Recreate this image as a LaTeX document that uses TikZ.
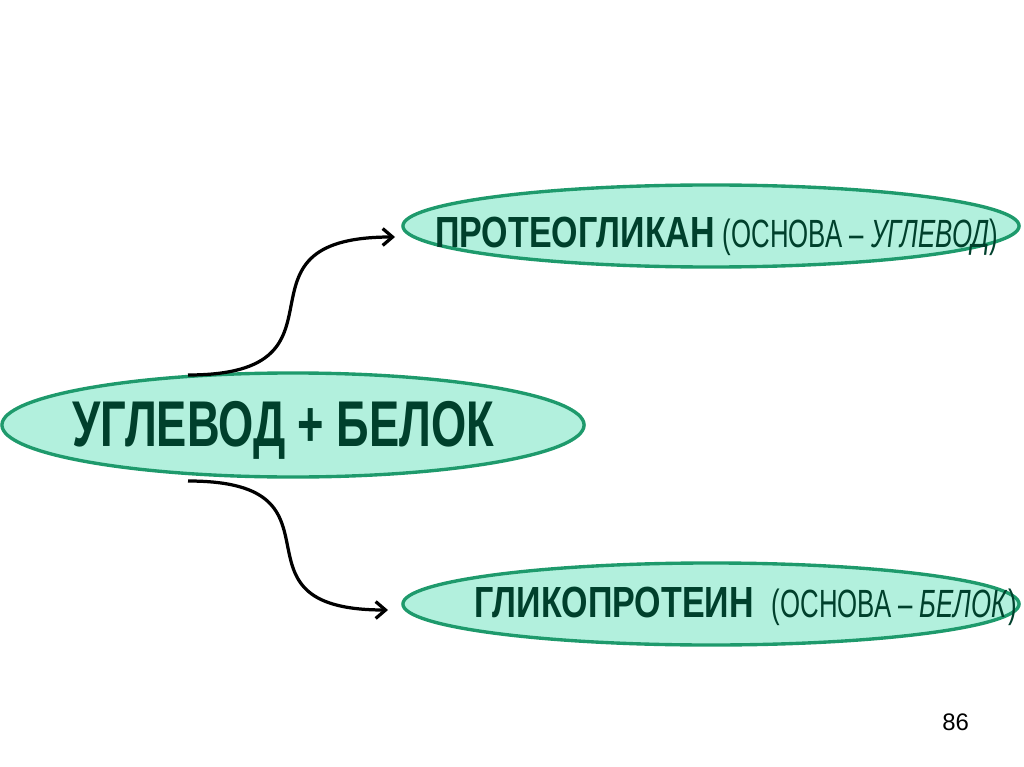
\documentclass[tikz,border=0pt]{standalone}
\usepackage{fontspec}
\setmainfont{Liberation Sans}
\usetikzlibrary{shapes.geometric,arrows.meta}
\definecolor{blobfill}{HTML}{B2F0DD}
\definecolor{blobline}{HTML}{1E9A6C}
\definecolor{txtgreen}{HTML}{00402C}
\tikzset{
  blob/.style={ellipse,draw=blobline,fill=blobfill,line width=2.4pt,inner sep=0pt},
  bigtxt/.style={text=txtgreen,font=\fontsize{46}{50}\selectfont\bfseries,anchor=base west,inner sep=0pt},
  midtxt/.style={text=txtgreen,anchor=base west,inner sep=0pt},
  link/.style={line width=2.3pt,-{Straight Barb[length=7pt,width=12pt]}}
}
\newcommand{\bpart}[1]{\scalebox{0.78}[1]{\fontsize{31}{36}\selectfont\bfseries #1}}
\newcommand{\rpart}[1]{\scalebox{0.655}[1]{\fontsize{28}{32}\selectfont #1}}

\begin{document}
\begin{tikzpicture}[x=0.025cm,y=-0.025cm]
\useasboundingbox (0,0) rectangle (1024,767);
\node[blob,minimum width=14.55cm,minimum height=2.6cm] (carb) at (293,425) {};
\node[blob,minimum width=15.4cm,minimum height=2.05cm] (prot) at (711,226) {};
\node[blob,minimum width=15.4cm,minimum height=2.05cm] (glyc) at (711,604) {};
\node[bigtxt] (carbtxt) at (72,446) {\scalebox{0.70}[1]{УГЛЕВОД + БЕЛОК}};
\node[midtxt] (prottxt) at (435,247) {\bpart{ПРОТЕОГЛИКАН}\hspace{0.2cm}\rpart{(ОСНОВА – \textit{УГЛЕВОД})}};
\node[midtxt] (glyctxt) at (474,617) {\bpart{ГЛИКОПРОТЕИН}\hspace{0.45cm}\rpart{(ОСНОВА – \textit{БЕЛОК})}};
\node[anchor=base west,inner sep=0pt] (page) at (942,730) {\fontsize{17}{20}\selectfont 86};
\coordinate (s1) at (188,375);
\coordinate (t1) at (395,237);
\coordinate (s2) at (188,481);
\coordinate (t2) at (388,610);
\draw[link] (s1) .. controls +(178,0) and +(-178,0) .. (t1);
\draw[link] (s2) .. controls +(172,0) and +(-172,0) .. (t2);
\end{tikzpicture}
\end{document}
